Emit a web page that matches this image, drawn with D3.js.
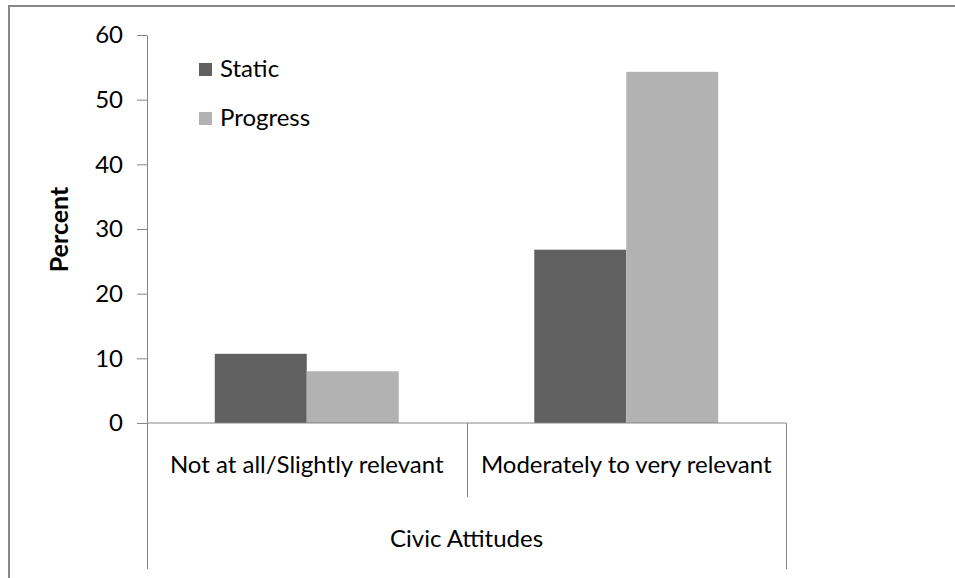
<!DOCTYPE html>
<html>
<head>
<meta charset="utf-8">
<script src="https://cdn.jsdelivr.net/npm/d3@7"></script>
<style>
  html, body { margin: 0; padding: 0; background: #fff; }
  svg { display: block; }
  text { font-family: Lato, "Open Sans", sans-serif; fill: #000; }
</style>
</head>
<body>
<svg id="chart" width="955" height="578"></svg>
<script>
// Chart data
const categories = ["Not at all/Slightly relevant", "Moderately to very relevant"];
const seriesNames = ["Static", "Progress"];
const staticValues = [10.7, 26.8];
const progressValues = [8.0, 54.3];
const yTicks = [0, 10, 20, 30, 40, 50, 60];
const groupTitle = "Civic Attitudes";
const yTitle = "Percent";

const colors = { Static: "#606060", Progress: "#b2b2b2" };
const axisColor = "#868686";
const fontSize = 24;

const svg = d3.select("#chart");

// outer frame
svg.append("path")
  .attr("d", "M9,578 V6 H955")
  .attr("fill", "none")
  .attr("stroke", "#888")
  .attr("stroke-width", 2);

const plot = { left: 147, right: 786, top: 35, bottom: 423 };

const y = d3.scaleLinear().domain([0, 60]).range([plot.bottom, plot.top]);
const x0 = d3.scaleBand().domain(categories).range([plot.left, plot.right]).padding(0);
const x1 = d3.scaleBand().domain(seriesNames).range([0, x0.bandwidth()])
  .paddingInner(0).paddingOuter(0.737);

const rows = categories.map((c, i) => ({
  category: c,
  values: [
    { key: "Static", value: staticValues[i] },
    { key: "Progress", value: progressValues[i] }
  ]
}));

// bars
const groups = svg.append("g").selectAll("g").data(rows).join("g")
  .attr("transform", d => `translate(${x0(d.category)},0)`);
groups.selectAll("rect").data(d => d.values).join("rect")
  .attr("x", d => x1(d.key))
  .attr("y", d => y(d.value))
  .attr("width", x1.bandwidth())
  .attr("height", d => y(0) - y(d.value))
  .attr("fill", d => colors[d.key]);

// y axis
const yAxis = svg.append("g")
  .attr("transform", `translate(${plot.left},0)`)
  .call(d3.axisLeft(y).tickValues(yTicks).tickSize(10).tickPadding(14).tickSizeOuter(0));
yAxis.select(".domain").attr("stroke", axisColor);
yAxis.selectAll(".tick line").attr("stroke", axisColor);
yAxis.selectAll(".tick text")
  .attr("font-size", fontSize)
  .attr("font-family", "Lato, sans-serif")
  .attr("fill", "#000");

// category axis baseline and dividers
const catAxis = svg.append("g").attr("stroke", axisColor).attr("fill", "none");
catAxis.append("line")
  .attr("x1", plot.left).attr("x2", plot.right)
  .attr("y1", y(0)).attr("y2", y(0));
// outer group lines (left axis extension and right end)
catAxis.append("line")
  .attr("x1", plot.left + 0.5).attr("x2", plot.left + 0.5)
  .attr("y1", y(0)).attr("y2", 569);
catAxis.append("line")
  .attr("x1", plot.right + 0.5).attr("x2", plot.right + 0.5)
  .attr("y1", y(0)).attr("y2", 569);
// divider between categories
catAxis.selectAll(".div").data(categories.slice(1)).join("line")
  .attr("class", "div")
  .attr("x1", d => Math.round(x0(d)) + 0.5).attr("x2", d => Math.round(x0(d)) + 0.5)
  .attr("y1", y(0)).attr("y2", 497);

// category labels
svg.append("g").selectAll("text").data(categories).join("text")
  .attr("x", d => x0(d) + x0.bandwidth() / 2)
  .attr("y", 473)
  .attr("text-anchor", "middle")
  .attr("font-size", fontSize)
  .text(d => d);

// group label
svg.append("text")
  .attr("x", (plot.left + plot.right) / 2)
  .attr("y", 547)
  .attr("text-anchor", "middle")
  .attr("font-size", fontSize)
  .text(groupTitle);

// y axis title
svg.append("text")
  .attr("transform", `translate(68,229.5) rotate(-90)`)
  .attr("text-anchor", "middle")
  .attr("font-size", 25)
  .attr("font-weight", "bold")
  .text(yTitle);

// legend
const legend = svg.append("g").selectAll("g").data(seriesNames).join("g")
  .attr("transform", (d, i) => `translate(199,${63 + i * 49})`);
legend.append("rect")
  .attr("width", 13).attr("height", 13)
  .attr("fill", d => colors[d]);
legend.append("text")
  .attr("x", 21).attr("y", 14)
  .attr("font-size", fontSize)
  .text(d => d);
</script>
</body>
</html>
